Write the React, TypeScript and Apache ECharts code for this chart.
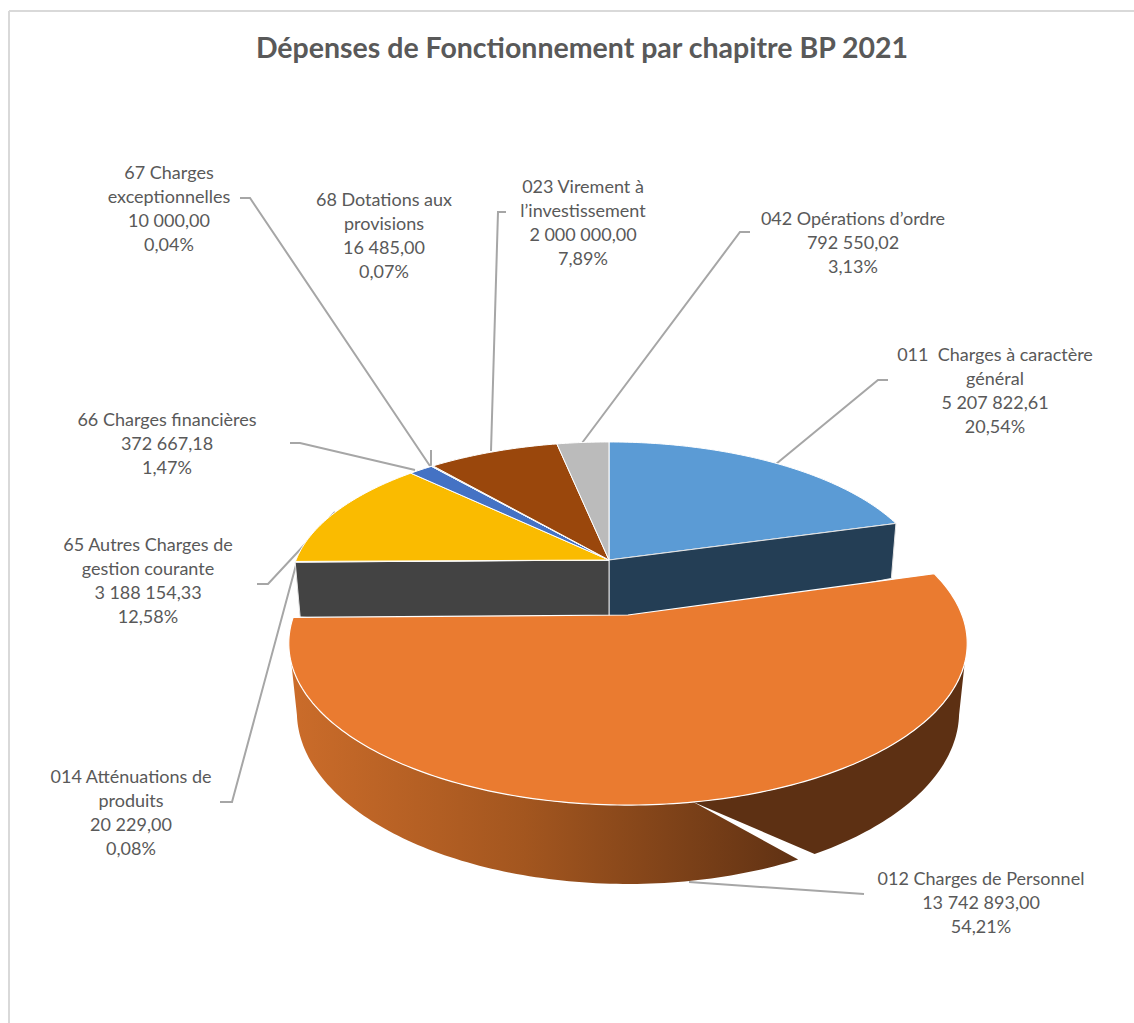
import React, { useEffect, useRef } from "react";
import * as echarts from "echarts";

// Budget chapters, clockwise from twelve o'clock
const chapterNames = [
  "011  Charges à caractère\ngénéral",
  "012 Charges de Personnel",
  "014 Atténuations de\nproduits",
  "65 Autres Charges de\ngestion courante",
  "66 Charges financières",
  "67 Charges\nexceptionnelles",
  "68 Dotations aux\nprovisions",
  "023 Virement à\nl’investissement",
  "042 Opérations d’ordre",
];
const chapterAmounts = [
  5207822.61, 13742893.0, 20229.0, 3188154.33, 372667.18, 10000.0, 16485.0, 2000000.0, 792550.02,
];
const sliceColors = [
  "#5b9bd5", "#ea7b30", "#a5a5a5", "#fabb00", "#4472c4", "#70ad47", "#255e91", "#9a470c", "#bbbbbb",
];
const chartTitle = "Dépenses de Fonctionnement par chapitre BP 2021";
const explodedIndex = 1;

// Label anchors (centre of the text block) and leader routes
const labelCentres: number[][] = [
  [995, 390], [981, 902], [131, 812], [148, 580], [167, 443], [169, 208], [384, 235], [583, 222], [853, 242],
];
const leaderRoutes: number[][][] = [
  [[776, 464], [878, 380], [888, 380]],
  [[689, 882], [864, 894]],
  [[296, 565], [232, 802], [220, 802]],
  [[335, 512], [268, 584], [257, 584]],
  [[415, 470], [300, 443], [290, 443]],
  [[430, 466], [250, 198], [240, 198]],
  [[431, 466], [431, 450]],
  [[491, 451], [498, 212], [506, 212]],
  [[582, 443], [740, 232], [750, 232]],
];

// Oblique view of a disc: rear points shrink, front points grow
const PERSPECTIVE = 0.175;
type Disc = { cx: number; cy: number; a: number; b: number };
const mainTop: Disc = { cx: 609, cy: 560, a: 313, b: 138.7 };
const mainBase: Disc = { cx: 609, cy: 615, a: 308, b: 138.7 };
const liftedTop: Disc = { cx: 628, cy: 615, a: 334, b: 156.8 };
const liftedBase: Disc = { cx: 628, cy: 682, a: 326, b: 166.6 };

const project = (d: Disc, deg: number): number[] => {
  const t = (deg * Math.PI) / 180;
  const s = 1 / (1 + PERSPECTIVE * Math.cos(t));
  return [d.cx + d.a * Math.sin(t) * s, d.cy - d.b * Math.cos(t) * s];
};
const arc = (d: Disc, from: number, to: number): number[][] => {
  const steps = Math.max(2, Math.ceil(Math.abs(to - from)));
  const pts: number[][] = [];
  for (let i = 0; i <= steps; i++) pts.push(project(d, from + ((to - from) * i) / steps));
  return pts;
};

const total = chapterAmounts.reduce((a, b) => a + b, 0);
let running = 0;
const sliceRows = chapterAmounts.map((v, i) => {
  const start = (running / total) * 360;
  running += v;
  return [v, start, (running / total) * 360, i];
});

const frenchAmount = (v: number) => {
  const [whole, dec] = v.toFixed(2).split(".");
  return `${whole.replace(/\B(?=(\d{3})+$)/g, " ")},${dec}`;
};
const frenchPercent = (v: number) => `${((v / total) * 100).toFixed(2).replace(".", ",")}%`;

const poly = (points: number[][], style: any) => ({ type: "polygon", shape: { points }, style });

// Remaining slices and the two cut faces left by the pulled-out slice
const renderBackSlice = (_: any, api: any) => {
  const start = api.value(1);
  const end = api.value(2);
  const i = api.value(3);
  if (i === explodedIndex) {
    const cutFace = (deg: number, fill: string) =>
      poly(
        [[mainTop.cx, mainTop.cy], project(mainTop, deg), project(mainBase, deg), [mainBase.cx, mainBase.cy + 18]],
        { fill, stroke: "#e4e4e4", lineWidth: 1 },
      );
    return {
      type: "group",
      children: [cutFace(start, "#243e55"), cutFace(end, "#434343")],
    };
  }
  return poly([[mainTop.cx, mainTop.cy], ...arc(mainTop, start, end)], {
    fill: sliceColors[i],
    stroke: "#ffffff",
    lineWidth: 1,
  });
};

// The pulled-out slice: split outer wall under a flat top
const renderLiftedSlice = (_: any, api: any) => {
  const start = api.value(1);
  const end = api.value(2);
  const i = api.value(3);
  const gradient = new echarts.graphic.LinearGradient(
    290, 0, 810, 0,
    [
      { offset: 0, color: "#cb6c2a" },
      { offset: 0.45, color: "#a3561f" },
      { offset: 1, color: "#5d3013" },
    ],
    true,
  );
  const leftWall = [...arc(liftedTop, 253, 170.7), ...arc(liftedBase, 153.9, 259)];
  const rightWall = [...arc(liftedTop, 107, 170.7), ...arc(liftedBase, 151, 101)];
  return {
    type: "group",
    children: [
      poly(rightWall, { fill: "#5d3013" }),
      poly(leftWall, { fill: gradient }),
      poly([[liftedTop.cx, liftedTop.cy], ...arc(liftedTop, start, end)], {
        fill: sliceColors[i],
        stroke: "#ffffff",
        lineWidth: 1.2,
      }),
    ],
  };
};

// Leader line and three- or four-line caption for one chapter
const renderCaption = (_: any, api: any) => {
  const i = api.value(3);
  const v = api.value(0);
  const [x, y] = labelCentres[i];
  return {
    type: "group",
    children: [
      {
        type: "polyline",
        shape: { points: leaderRoutes[i] },
        style: { fill: "none", stroke: "#a6a6a6", lineWidth: 2 },
      },
      {
        type: "text",
        x,
        y,
        style: {
          text: `${chapterNames[i]}\n${frenchAmount(v)}\n${frenchPercent(v)}`,
          fontFamily: "Lato",
          fontSize: 18,
          lineHeight: 24.3,
          fill: "#595959",
          align: "center",
          verticalAlign: "middle",
        },
      },
    ],
  };
};

export default function App() {
  const ref = useRef<HTMLDivElement>(null);
  useEffect(() => {
    const chart = echarts.init(ref.current!, null, { renderer: "svg" });
    chart.setOption({
      animation: false,
      backgroundColor: "#ffffff",
      title: {
        text: chartTitle,
        left: 577,
        top: 27,
        textAlign: "center",
        textStyle: { fontFamily: "Lato", fontSize: 28.5, fontWeight: "bold", color: "#595959" },
      },
      graphic: [
        { type: "line", shape: { x1: 9, y1: 11, x2: 1134, y2: 11 }, style: { stroke: "#d9d9d9", lineWidth: 2 } },
        { type: "line", shape: { x1: 9, y1: 11, x2: 9, y2: 1023 }, style: { stroke: "#d9d9d9", lineWidth: 2 } },
      ],
      series: [
        { type: "custom", coordinateSystem: "none", silent: true, data: sliceRows, renderItem: renderBackSlice, z: 2 },
        {
          type: "custom",
          coordinateSystem: "none",
          silent: true,
          data: sliceRows.filter((r) => r[3] === explodedIndex),
          renderItem: renderLiftedSlice,
          z: 3,
        },
        { type: "custom", coordinateSystem: "none", silent: true, data: sliceRows, renderItem: renderCaption, z: 1 },
      ],
    });
    return () => chart.dispose();
  }, []);
  return <div ref={ref} style={{ position: "absolute", left: 0, top: 0, width: 1134, height: 1023 }} />;
}
